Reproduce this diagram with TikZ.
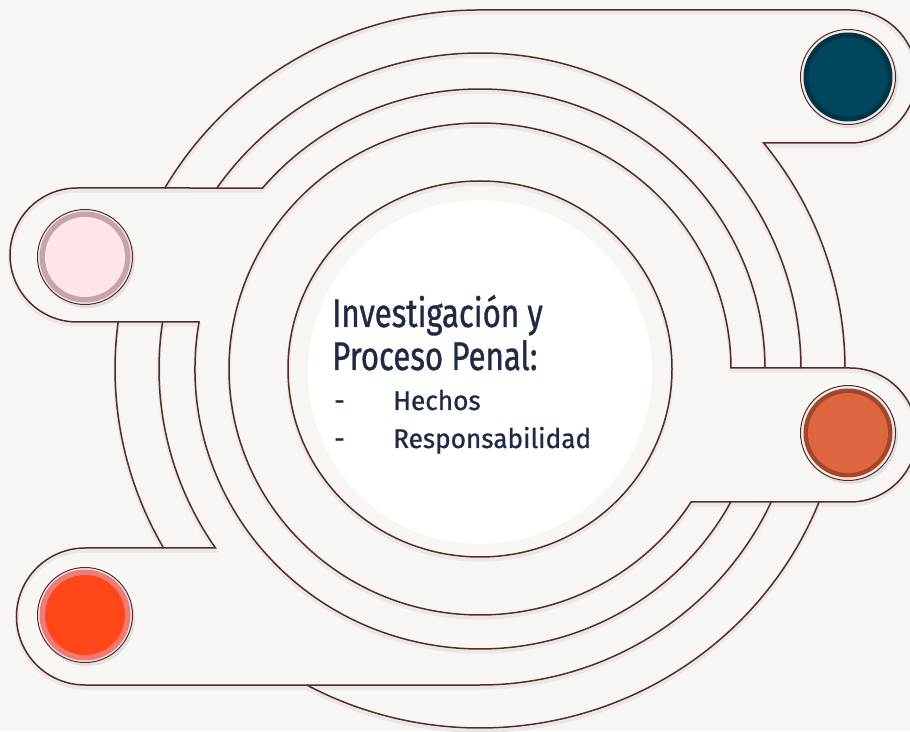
\documentclass[tikz,border=0pt]{standalone}
\usepackage{fontspec}
\setmainfont{Fira Sans}
\newfontfamily\headfont{Fira Sans}[FakeStretch=0.78, FakeBold=0.9]
\newfontfamily\itemfont{Fira Sans}[FakeStretch=0.97, FakeBold=0.9]

\definecolor{paper}{RGB}{248,246,243}
\definecolor{linebrown}{RGB}{88,42,38}
\definecolor{gapcol}{RGB}{240,236,233}
\definecolor{pinkcore}{RGB}{255,228,232}
\definecolor{pinkrim}{RGB}{197,165,170}
\definecolor{navycore}{RGB}{0,71,94}
\definecolor{navyrim}{RGB}{0,53,71}
\definecolor{rustcore}{RGB}{221,102,64}
\definecolor{rustrim}{RGB}{164,70,42}
\definecolor{redcore}{RGB}{255,70,24}
\definecolor{redrim}{RGB}{240,122,120}
\definecolor{inknavy}{RGB}{31,42,68}

\begin{document}
\begin{tikzpicture}[x=1pt, y=1pt,
  ring/.style={draw=linebrown, line width=1.5pt},
  shade/.style={draw=black!9, line width=3.5pt, yshift=-3pt},
  label/.style={anchor=base west, inner sep=0pt, text=inknavy}]

\useasboundingbox ( 0, 0 ) rectangle ( 910, 731 );
\fill [paper] ( 0, 0 ) rectangle ( 910, 731 );

% Centre disc
\fill [white] ( 480, 359 ) circle ( 172pt );

% Rings and pills (shadow first, then line)
\foreach \look in {shade, ring} {
  % inner ring
  \draw [\look] ( 480, 362 ) ellipse [x radius=192pt, y radius=188pt];
  % second ring, closed by the right pill
  \draw [\look] ( {480+251*cos(asin(1/246))}, 363 )
    arc [start angle={asin(1/246)}, end angle={360-asin(133/246)}, x radius=251pt, y radius=246pt]
    -- ( 850, 229 ) arc [start angle=-90, end angle=90, radius=67pt] -- cycle;
  % third ring, through the upper left pill
  \draw [\look] ( {480+285*cos(asin(1/280))}, 363 )
    arc [start angle={asin(1/280)}, end angle={180-asin(181/280)}, x radius=285pt, y radius=280pt]
    -- ( 77, 543 ) arc [start angle=90, end angle=270, radius=67pt]
    -- ( {480-285*cos(asin(47/280))}, 409 )
    arc [start angle={180-asin(47/280)}, end angle={360-asin(133/280)}, x radius=285pt, y radius=280pt];
  % fourth ring
  \draw [\look] ( {480+321*cos(asin(1/316))}, 363 )
    arc [start angle={asin(1/316)}, end angle={180-asin(181/316)}, x radius=321pt, y radius=316pt];
  \draw [\look] ( {480-321*cos(asin(47/316))}, 409 )
    arc [start angle={180-asin(47/316)}, end angle={180+asin(179/316)}, x radius=321pt, y radius=316pt]
    -- ( 85, 183 ) arc [start angle=90, end angle=270, radius=68.5pt] -- ( 480, 46 )
    arc [start angle=270, end angle={360-asin(133/316)}, x radius=321pt, y radius=316pt];
  % outer ring, through the upper right pill
  \draw [\look] ( {480-365*cos(asin(181/359))}, 543 )
    arc [start angle={180-asin(181/359)}, end angle=90, x radius=365pt, y radius=359pt]
    -- ( 850, 721 ) arc [start angle=90, end angle=-90, radius=66.5pt]
    -- ( {480+365*cos(asin(226/359))}, 588 )
    arc [start angle={asin(226/359)}, end angle={asin(1/359)}, x radius=365pt, y radius=359pt];
  \draw [\look] ( {480-365*cos(asin(47/359))}, 409 )
    arc [start angle={180-asin(47/359)}, end angle={180+asin(179/359)}, x radius=365pt, y radius=359pt];
  \draw [\look] ( {480-365*cos(asin(316/359))}, 46 )
    arc [start angle={180+asin(316/359)}, end angle={360-asin(133/359)}, x radius=365pt, y radius=359pt];
}

% Pink button
\fill [black!12] ( 87, 471 ) circle ( 48pt );
\filldraw [fill=gapcol, draw=linebrown, line width=1pt] ( 85, 474 ) circle ( 47.5pt );
\fill [pinkrim] ( 85, 474 ) circle ( 45.5pt );
\fill [pinkcore] ( 85, 474 ) circle ( 40pt );

% Navy button
\fill [black!12] ( 850, 651 ) circle ( 48pt );
\filldraw [fill=gapcol, draw=linebrown, line width=1pt] ( 848, 654 ) circle ( 47.5pt );
\fill [navyrim] ( 848, 654 ) circle ( 44.5pt );
\fill [navycore] ( 848, 654 ) circle ( 39.5pt );

% Rust button
\fill [black!12] ( 850, 295 ) circle ( 48pt );
\filldraw [fill=gapcol, draw=linebrown, line width=1pt] ( 848, 298 ) circle ( 47.5pt );
\fill [rustrim] ( 848, 298 ) circle ( 44.5pt );
\fill [rustcore] ( 848, 298 ) circle ( 40pt );

% Red button
\fill [black!12] ( 87, 113 ) circle ( 48pt );
\filldraw [fill=gapcol, draw=linebrown, line width=1pt] ( 85, 116 ) circle ( 47.5pt );
\fill [redrim] ( 85, 116 ) circle ( 45.5pt );
\fill [redcore] ( 85, 116 ) circle ( 40pt );

% Labels
\node (head1) at ( 332, 404 ) [label, font=\headfont\fontsize{40}{44}\selectfont] {Investigación y};
\node (head2) at ( 332, 361 ) [label, font=\headfont\fontsize{40}{44}\selectfont] {Proceso Penal:};
\node (dash1) at ( 334, 321 ) [label, font=\itemfont\fontsize{27}{30}\selectfont] {-};
\node (item1) at ( 393, 321 ) [label, font=\itemfont\fontsize{27}{30}\selectfont] {Hechos};
\node (dash2) at ( 334, 283 ) [label, font=\itemfont\fontsize{27}{30}\selectfont] {-};
\node (item2) at ( 393, 283 ) [label, font=\itemfont\fontsize{27}{30}\selectfont] {Responsabilidad};

\end{tikzpicture}
\end{document}
